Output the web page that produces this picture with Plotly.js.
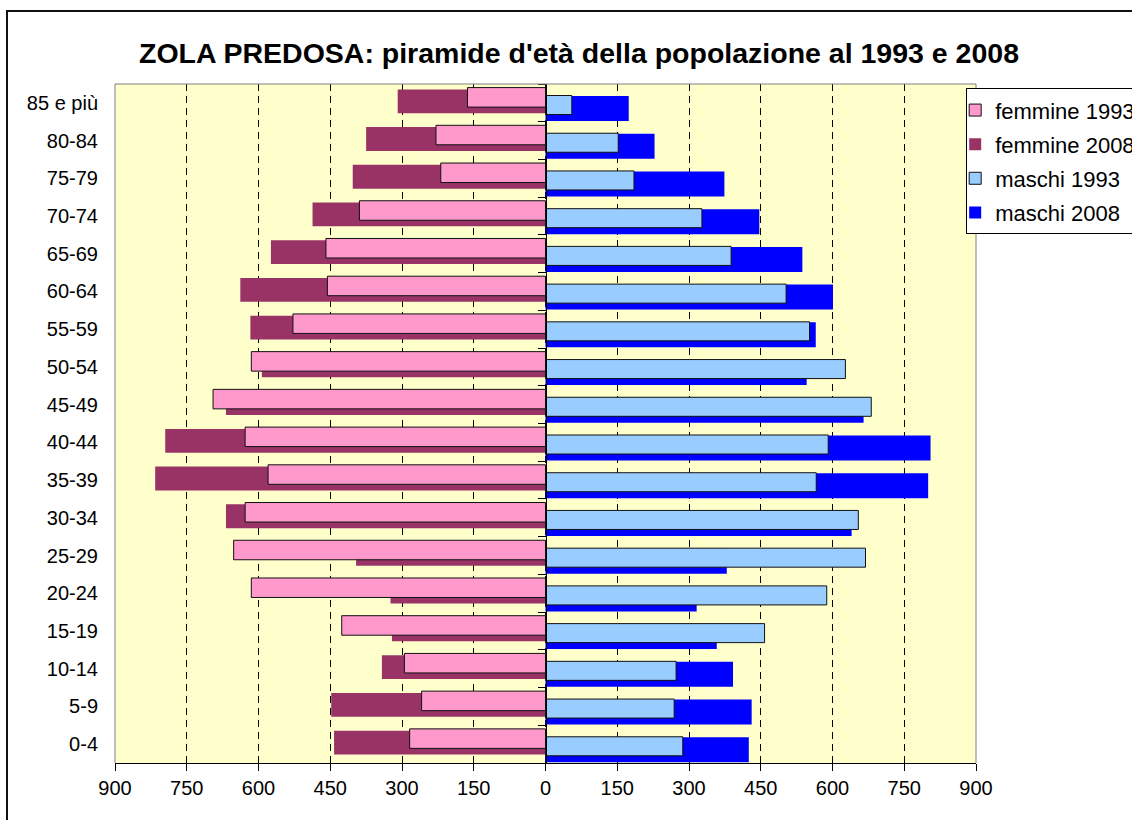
<!DOCTYPE html>
<html>
<head>
<meta charset="utf-8">
<script src="https://cdn.plot.ly/plotly-3.0.1.min.js"></script>
<style>
  html, body { margin: 0; padding: 0; background: #ffffff; overflow: hidden; }
  #chart { position: absolute; left: 0; top: 0; width: 1132px; height: 820px; }
  #frame { position: absolute; left: 6px; top: 10px; width: 2000px; height: 2000px;
           border-left: 2px solid #111; border-top: 2px solid #111; pointer-events: none; }
</style>
</head>
<body>
<div id="chart"></div>
<div id="frame"></div>
<script>
// Age groups, bottom to top
const ageGroups = ['0-4','5-9','10-14','15-19','20-24','25-29','30-34','35-39','40-44',
                   '45-49','50-54','55-59','60-64','65-69','70-74','75-79','80-84','85 e più'];

const femmine1993 = [284, 259, 295, 426, 615, 652, 628, 580, 628, 695, 615, 528, 456, 459, 389, 219, 229, 163];
const femmine2008 = [442, 448, 342, 321, 324, 396, 668, 816, 795, 668, 593, 617, 638, 574, 487, 403, 375, 309];
const maschi1993  = [287, 269, 273, 458, 588, 669, 654, 566, 591, 681, 627, 552, 503, 388, 327, 185, 152, 55];
const maschi2008  = [425, 431, 392, 358, 316, 379, 640, 800, 805, 665, 546, 565, 601, 537, 447, 374, 228, 174];

const tickValues = [-900, -750, -600, -450, -300, -150, 0, 150, 300, 450, 600, 750, 900];
const tickLabels = tickValues.map(v => String(Math.abs(v)));

const FONT = 'Liberation Sans, Arial, sans-serif';
const neg = a => a.map(v => -v);

const traces = [
  { type: 'bar', orientation: 'h', name: 'femmine 2008', legendrank: 2, legendgroup: 'g2',
    x: neg(femmine2008), y: ageGroups, offset: -0.274, width: 0.631,
    marker: { color: '#993366', line: { width: 0 } } },
  { type: 'bar', orientation: 'h', name: 'maschi 2008', legendrank: 4, legendgroup: 'g4',
    x: maschi2008, y: ageGroups, offset: -0.481, width: 0.663,
    marker: { color: '#0000FF', line: { width: 0 } } },
  { type: 'bar', orientation: 'h', name: 'femmine 1993', legendrank: 1, legendgroup: 'g1',
    x: neg(femmine1993), y: ageGroups, offset: -0.112, width: 0.517,
    marker: { color: '#FF99CC', line: { color: '#111111', width: 1 } } },
  { type: 'bar', orientation: 'h', name: 'maschi 1993', legendrank: 3, legendgroup: 'g3',
    x: maschi1993, y: ageGroups, offset: -0.309, width: 0.504,
    marker: { color: '#99CCFF', line: { color: '#111111', width: 1 } } },
  { type: 'scatter', mode: 'markers', x: ageGroups.map(() => null), y: ageGroups,
    yaxis: 'y2', showlegend: false, hoverinfo: 'skip', marker: { opacity: 0 } }
];

const layout = {
  width: 1132, height: 820,
  margin: { l: 115, r: 156, t: 84, b: 57, pad: 0, autoexpand: false },
  paper_bgcolor: '#ffffff',
  plot_bgcolor: '#FFFFCC',
  barmode: 'overlay',
  font: { family: FONT, color: '#000000', size: 20 },
  title: {
    text: "<b>ZOLA PREDOSA: piramide d'età della popolazione al 1993 e 2008</b>",
    font: { family: FONT, size: 28.5, color: '#000000' },
    xref: 'container', x: 0.5115, xanchor: 'center',
    yref: 'container', y: 1 - 53 / 820, yanchor: 'middle'
  },
  xaxis: {
    range: [-900, 900],
    tickmode: 'array', tickvals: tickValues, ticktext: tickLabels,
    showgrid: true, gridcolor: '#000000', gridwidth: 1, griddash: '7px,5px',
    zeroline: false,
    showline: true, linecolor: '#000000', linewidth: 1,
    ticks: 'outside', ticklen: 7, tickcolor: '#000000', tickwidth: 1,
    tickfont: { family: FONT, size: 20, color: '#000000' },
    automargin: false, fixedrange: true
  },
  yaxis: {
    type: 'category', categoryorder: 'array', categoryarray: ageGroups,
    range: [-0.5, 17.5],
    showgrid: false, zeroline: false, showline: false,
    ticks: '', ticklabelstandoff: 16,
    tickfont: { family: FONT, size: 20, color: '#000000' },
    automargin: false, fixedrange: true
  },
  yaxis2: {
    type: 'category', categoryorder: 'array', categoryarray: ageGroups,
    range: [-0.5, 17.5],
    overlaying: 'y', anchor: 'free', position: 0.5, side: 'left',
    showgrid: false, zeroline: false,
    showline: true, linecolor: '#000000', linewidth: 1,
    ticks: 'outside', ticklen: 8, tickcolor: '#000000', tickson: 'boundaries',
    showticklabels: false, automargin: false, fixedrange: true
  },
  shapes: [
    { type: 'path', xref: 'paper', yref: 'paper', layer: 'above',
      path: 'M0,0 L0,1 L1,1 L1,0', line: { color: '#808080', width: 1 } }
  ],
  legend: {
    x: 0.9886, xanchor: 'left', y: 0.9937, yanchor: 'top',
    bgcolor: '#ffffff', bordercolor: '#000000', borderwidth: 1,
    font: { family: FONT, size: 22, color: '#000000' },
    traceorder: 'grouped', tracegroupgap: 2.5, indentation: -12
  },
  showlegend: true
};

Plotly.newPlot('chart', traces, layout, { staticPlot: true, displayModeBar: false });
</script>
</body>
</html>
